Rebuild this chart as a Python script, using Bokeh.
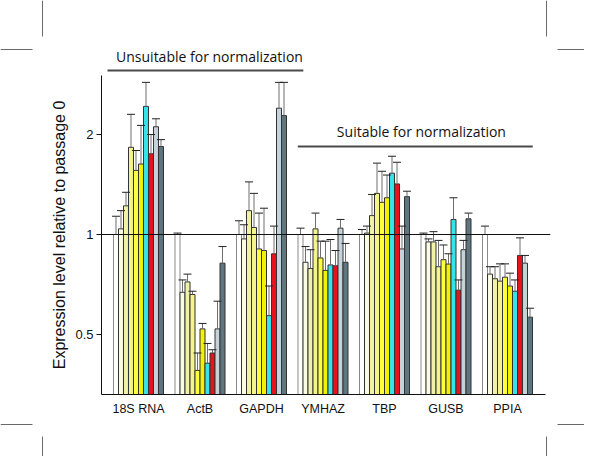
import numpy as np
from bokeh.plotting import figure
from bokeh.layouts import column
from bokeh.models import (ColumnDataSource, FixedTicker, Span, Whisker, TeeHead, Range1d)
from bokeh.core.properties import value
from bokeh.embed import file_html
from bokeh.resources import INLINE

# ---------------- data ----------------
genes = ["18S RNA", "ActB", "GAPDH", "YMHAZ", "TBP", "GUSB", "PPIA"]
series = ["S1", "S2", "S3", "S4", "S5", "S6", "S7", "S8", "S9", "S10"]

mean_18s = [1.00, 1.04, 1.22, 1.83, 1.56, 1.63, 2.43, 1.75, 2.11, 1.84]
mean_actb = [1.00, 0.67, 0.72, 0.66, 0.39, 0.52, 0.41, 0.44, 0.52, 0.82]
mean_gapdh = [1.00, 0.97, 1.18, 1.05, 0.905, 0.895, 0.57, 0.875, 2.40, 2.28]
mean_ymhaz = [1.00, 0.825, 0.79, 1.04, 0.85, 0.78, 0.81, 0.805, 1.045, 0.825]
mean_tbp = [1.00, 1.01, 1.14, 1.33, 1.25, 1.29, 1.53, 1.42, 0.905, 1.30]
mean_gusb = [1.00, 0.95, 0.95, 0.80, 0.84, 0.815, 1.11, 0.68, 0.90, 1.115]
mean_ppia = [1.00, 0.76, 0.736, 0.724, 0.744, 0.70, 0.675, 0.865, 0.82, 0.564]

upper_18s = [1.135, 1.18, 1.34, 2.30, 1.79, 2.13, 2.87, 2.00, 2.23, 1.93]
upper_actb = [1.01, 0.73, 0.76, 0.675, 0.44, 0.54, 0.47, 0.45, 0.63, 0.92]
upper_gapdh = [1.10, 1.07, 1.44, 1.33, 1.16, 1.20, 0.70, 1.06, 2.87, 2.87]
upper_ymhaz = [1.045, 0.92, 0.90, 1.16, 0.955, 0.955, 0.966, 0.895, 1.11, 0.94]
upper_tbp = [1.035, 1.06, 1.32, 1.64, 1.55, 1.51, 1.72, 1.65, 1.06, 1.35]
upper_gusb = [1.01, 0.97, 1.02, 0.96, 0.93, 0.875, 1.29, 0.73, 0.96, 1.16]
upper_ppia = [1.06, 0.80, 0.80, 0.816, 0.816, 0.765, 0.73, 0.977, 0.865, 0.60]

y_ticks = [0.5, 1, 2]
y_tick_labels = ["0.5", "1", "2"]
y_title = "Expression level relative to passage 0"

classes = ["Unsuitable for normalization", "Suitable for normalization"]
class_first_gene = [0, 3]
class_last_gene = [2, 6]

# ---------------- styles / layout ----------------
fill_colors = ["#FFFFFF", "#FBFBE4", "#F2F2A6", "#F4F48A", "#FFFF3A", "#F2F200",
               "#35E3E8", "#E8121C", "#C6D2DA", "#5D7680"]
edge_colors = ["#8A8A8A"] + ["#333333"] * 9

means = [mean_18s, mean_actb, mean_gapdh, mean_ymhaz, mean_tbp, mean_gusb, mean_ppia]
uppers = [upper_18s, upper_actb, upper_gapdh, upper_ymhaz, upper_tbp, upper_gusb, upper_ppia]

W = 584
TOP_H, MAIN_H, BOT_H = 75, 345, 36
FL, FR = 101, 34            # frame borders left / right
Y0, Y1 = 0.330, 3.01
X0, X1 = -0.6016, 6.699
PXU = (W - FL - FR) / (X1 - X0)   # pixels per x unit


def px_to_x(px):
    return X0 + (px - FL) / PXU


def decor_fig(h):
    f = figure(width=W, height=h, output_backend="svg", toolbar_location=None,
               x_axis_location=None, y_axis_location=None,
               x_range=Range1d(px_to_x(0), px_to_x(W)), y_range=Range1d(h, 0),
               min_border=0, min_border_left=0, min_border_right=0,
               min_border_top=0, min_border_bottom=0, frame_align=False)
    f.outline_line_color = None
    f.xgrid.visible = False
    f.ygrid.visible = False
    f.background_fill_color = "white"
    f.border_fill_color = "white"
    return f


def crop_marks(f, hy, vy0, vy1):
    xs0 = [px_to_x(0), px_to_x(557), px_to_x(42), px_to_x(546)]
    xs1 = [px_to_x(32), px_to_x(W), px_to_x(42), px_to_x(546)]
    ys0 = [hy, hy, vy0, vy0]
    ys1 = [hy, hy, vy1, vy1]
    f.segment(x0=xs0, y0=ys0, x1=xs1, y1=ys1, line_color="#6A6A6A", line_width=1)


# ---- top strip: crop marks + first class bracket ----
top = decor_fig(TOP_H)
crop_marks(top, 49, 0, 36)

# ---- main chart ----
p = figure(width=W, height=MAIN_H, output_backend="svg", toolbar_location=None,
           y_axis_type="log",
           x_range=Range1d(X0, X1), y_range=Range1d(Y0, Y1),
           min_border_left=FL, min_border_right=FR, min_border_top=0,
           min_border_bottom=26, frame_align=False)
p.outline_line_color = None
p.xgrid.visible = False
p.ygrid.visible = False
p.background_fill_color = "white"
p.border_fill_color = "white"

bw = 0.0813
gx = np.arange(len(genes), dtype=float)
for j, s in enumerate(series):
    x = gx + (j - (len(series) - 1) / 2) * bw
    tops = [means[g][j] for g in range(len(genes))]
    ups = [uppers[g][j] for g in range(len(genes))]
    src = ColumnDataSource(dict(x=x, top=tops, upper=ups))
    p.vbar(x="x", width=bw, bottom=Y0, top="top", source=src,
           fill_color=fill_colors[j], line_color=edge_colors[j], line_width=1)
    p.add_layout(Whisker(base="x", lower="top", upper="upper", source=src,
                         dimension="height", line_color="#6E6E6E", line_width=1,
                         lower_head=None,
                         upper_head=TeeHead(size=8, line_color="#222222", line_width=1),
                         level="annotation"))

p.add_layout(Span(location=1, dimension="width", line_color="#111111", line_width=1))

# class brackets: first one in the top strip, second one inside the chart
br_x0 = [class_first_gene[0] - 0.504, class_first_gene[1] - 0.41]
br_x1 = [class_last_gene[0] + 0.68, class_last_gene[1] + 0.41]
br_tx = [1.154, 4.60]

top.segment(x0=[br_x0[0]], y0=[70], x1=[br_x1[0]], y1=[70], line_color="#4A4A4A", line_width=2)
top.text(x=[br_tx[0]], y=[56], text=[classes[0]], text_font=value("Open Sans"),
         text_font_size="14px", text_align="center", text_baseline="middle",
         text_color="#111111")

p.segment(x0=[br_x0[1]], y0=[1.84], x1=[br_x1[1]], y1=[1.84], line_color="#4A4A4A", line_width=2)
p.text(x=[br_tx[1]], y=[2.04], text=[classes[1]], text_font=value("Open Sans"),
       text_font_size="14px", text_align="center", text_baseline="middle",
       text_color="#111111")

# axes
xa = p.xaxis[0]
xa.ticker = FixedTicker(ticks=list(range(len(genes))))
xa.major_label_overrides = {i: g for i, g in enumerate(genes)}
xa.major_tick_line_color = None
xa.major_tick_out = 0
xa.major_tick_in = 0
xa.minor_tick_line_color = None
xa.major_label_standoff = 7
xa.major_label_text_font = "Liberation Sans"
xa.major_label_text_font_size = "12.5px"
xa.major_label_text_color = "#111111"
xa.axis_line_color = "#111111"
xa.bounds = (X0, px_to_x(545))

ya = p.yaxis[0]
ya.ticker = FixedTicker(ticks=y_ticks, minor_ticks=[])
ya.major_label_overrides = {t: l for t, l in zip(y_ticks, y_tick_labels)}
ya.major_tick_out = 5
ya.major_tick_in = 0
ya.minor_tick_line_color = None
ya.major_label_standoff = 3
ya.major_label_text_font = "Liberation Sans"
ya.major_label_text_font_size = "13px"
ya.major_label_text_color = "#111111"
ya.axis_line_color = "#111111"
ya.major_tick_line_color = "#111111"
ya.axis_label = y_title
ya.axis_label_text_font = "Liberation Sans"
ya.axis_label_text_font_size = "16px"
ya.axis_label_text_font_style = "normal"
ya.axis_label_text_color = "#111111"
ya.axis_label_standoff = 4

# ---- bottom strip: crop marks ----
bot = decor_fig(BOT_H)
crop_marks(bot, 4, 16, BOT_H)

layout = column(top, p, bot, spacing=0)
open("out.html", "w").write(file_html(layout, INLINE))
